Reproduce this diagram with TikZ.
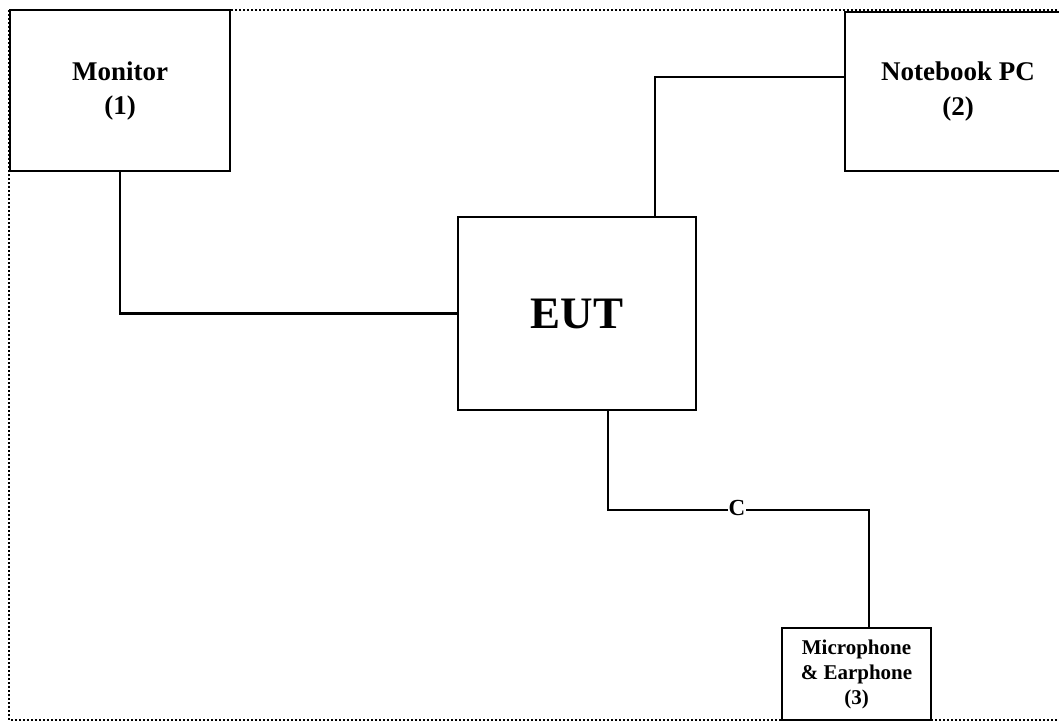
\documentclass[tikz,border=0pt]{standalone}
\usepackage{fontspec}
\setmainfont{Liberation Serif}
\begin{document}
\begin{tikzpicture}[x=1pt,y=-1pt,
  box/.style={draw,line width=2.8pt,inner sep=0pt,align=center,font=\bfseries},
  wire/.style={line width=2.8pt},
  frame/.style={line width=2pt,dotted}]
\useasboundingbox (0,0) rectangle (1059,724);
\clip (0,0) rectangle (1059,724);
\fill[white] (0,0) rectangle (1059,724);
\draw[frame] (9,10) rectangle (1075,720);
\node[box,minimum width=220pt,minimum height=161pt,font=\bfseries\fontsize{27}{34}\selectfont] (mon) at (120,90.5) {Monitor\\(1)};
\node[box,minimum width=226pt,minimum height=159pt,font=\bfseries\fontsize{27}{34}\selectfont] (nb) at (958,91.5) {Notebook PC\\(2)};
\node[box,minimum width=238pt,minimum height=193pt,font=\bfseries\fontsize{45}{52}\selectfont] (eut) at (577,313.5) {EUT};
\node[box,minimum width=149pt,minimum height=92pt,font=\bfseries\fontsize{21}{25}\selectfont] (mic) at (856.5,674) {Microphone\\\& Earphone\\(3)};
\coordinate (nbw) at ([yshift=14.5pt]nb.west);
\coordinate (eutn) at ([xshift=78pt]eut.north);
\coordinate (euts) at ([xshift=31pt]eut.south);
\coordinate (micn) at ([xshift=12.5pt]mic.north);
\coordinate (bend) at (euts |- 0,510);
\draw[wire] (mon.south) |- (eut.west);
\draw[wire] (nbw) -| (eutn);
\draw[wire] (euts) -- (bend) -| (micn);
\node[fill=white,inner sep=1pt,font=\bfseries\fontsize{23}{26}\selectfont] (c) at (737,508) {C};
\end{tikzpicture}
\end{document}
